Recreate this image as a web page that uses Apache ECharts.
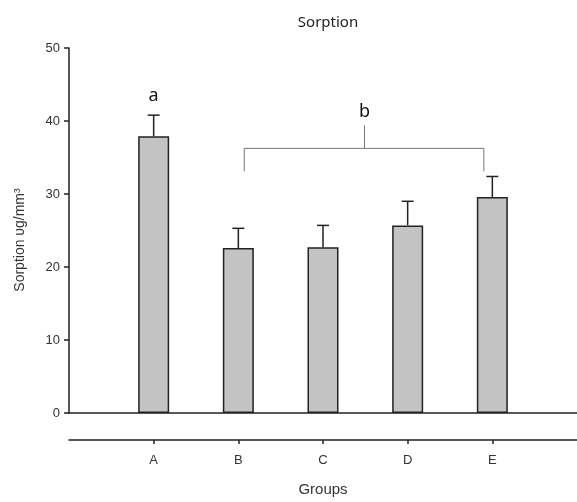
<!DOCTYPE html>
<html>
<head>
<meta charset="utf-8">
<script src="https://cdn.jsdelivr.net/npm/echarts@6/dist/echarts.min.js"></script>
<style>
  html, body { margin: 0; padding: 0; background: #fff; }
  #chart { width: 577px; height: 502px; }
</style>
</head>
<body>
<div id="chart"></div>
<script>
// group labels and values
var groups = ['A', 'B', 'C', 'D', 'E']
var means = [37.9, 22.6, 22.7, 25.7, 29.6]
var errors = [2.9, 2.7, 3.0, 3.3, 2.8]
var yTicks = [0, 10, 20, 30, 40, 50]

// significance letters and the bracket over B..E
var letters = ['a', 'b']
var letterX = [1, 3.49]
var letterY = [43.4, 41.3]
var bracketX = [2.07, 4.9]
var bracketY = 36.25
var bracketLeg = 33.1
var bracketStemX = 3.49
var bracketStemTop = 39.4

var chart = echarts.init(document.getElementById('chart'))
var font = 'Liberation Sans, Arial, sans-serif'
var axisColor = '#222'

chart.setOption({
  animation: false,
  title: {
    text: 'Sorption',
    left: 323,
    textAlign: 'center',
    top: 10,
    textStyle: { fontFamily: 'Noto Sans', fontSize: 15, fontWeight: 'normal', color: '#222' }
  },
  grid: { left: 69, right: -2, top: 48, bottom: 87 },
  xAxis: [
    {
      type: 'value',
      min: 0,
      max: 6,
      position: 'bottom',
      axisLine: { lineStyle: { color: axisColor, width: 1.5 } },
      axisTick: { show: false },
      axisLabel: { show: false },
      splitLine: { show: false }
    },
    {
      type: 'value',
      min: 0,
      max: 6,
      position: 'bottom',
      offset: 27,
      axisLine: { lineStyle: { color: axisColor, width: 1.5 } },
      axisTick: { customValues: [1, 2, 3, 4, 5], length: 4, lineStyle: { color: axisColor, width: 1.5 } },
      axisLabel: {
        customValues: [1, 2, 3, 4, 5],
        formatter: function (v) { return groups[v - 1] },
        margin: 14,
        fontFamily: font,
        fontSize: 13,
        color: '#333'
      },
      splitLine: { show: false },
      name: 'Groups',
      nameLocation: 'middle',
      nameGap: 42,
      nameTextStyle: { fontFamily: font, fontSize: 15, color: '#333' }
    }
  ],
  yAxis: {
    type: 'value',
    min: yTicks[0],
    max: yTicks[yTicks.length - 1],
    interval: 10,
    axisLine: { show: true, lineStyle: { color: axisColor, width: 1.5 } },
    axisTick: { show: true, length: 5, lineStyle: { color: axisColor, width: 1.5 } },
    axisLabel: { margin: 9, fontFamily: font, fontSize: 13, color: '#333' },
    splitLine: { show: false }
  },
  graphic: [
    {
      type: 'text',
      x: 20,
      y: 240,
      rotation: Math.PI / 2,
      style: {
        text: 'Sorption υg/mm³',
        font: '14px ' + font,
        fill: '#333',
        align: 'center',
        verticalAlign: 'middle'
      }
    }
  ],
  series: [
    {
      type: 'bar',
      xAxisIndex: 0,
      barWidth: 31,
      itemStyle: { color: '#c3c3c3', borderColor: '#222', borderWidth: 1.5 },
      data: groups.map(function (g, i) { return [i + 1, means[i]] }),
      z: 2
    },
    {
      type: 'custom',
      xAxisIndex: 0,
      z: 3,
      data: groups.map(function (g, i) { return [i + 1, means[i], errors[i]] }),
      renderItem: function (params, api) {
        var x = api.value(0)
        var m = api.value(1)
        var e = api.value(2)
        var base = api.coord([x, m])
        var top = api.coord([x, m + e])
        var st = { stroke: '#222', lineWidth: 1.5 }
        return {
          type: 'group',
          children: [
            { type: 'line', shape: { x1: base[0], y1: base[1], x2: top[0], y2: top[1] }, style: st },
            { type: 'line', shape: { x1: top[0] - 6, y1: top[1], x2: top[0] + 6, y2: top[1] }, style: st }
          ]
        }
      }
    },
    {
      type: 'custom',
      xAxisIndex: 0,
      z: 3,
      data: [[bracketX[0], bracketX[1], bracketY, bracketLeg, bracketStemX, bracketStemTop]],
      renderItem: function (params, api) {
        var l = api.coord([api.value(0), api.value(2)])
        var r = api.coord([api.value(1), api.value(2)])
        var lLeg = api.coord([api.value(0), api.value(3)])
        var rLeg = api.coord([api.value(1), api.value(3)])
        var sB = api.coord([api.value(4), api.value(2)])
        var sT = api.coord([api.value(4), api.value(5)])
        var st = { stroke: '#777', lineWidth: 1, fill: null }
        return {
          type: 'group',
          children: [
            { type: 'polyline', shape: { points: [lLeg, l, r, rLeg] }, style: st },
            { type: 'line', shape: { x1: sB[0], y1: sB[1], x2: sT[0], y2: sT[1] }, style: st }
          ]
        }
      }
    },
    {
      type: 'custom',
      xAxisIndex: 0,
      z: 3,
      data: letters.map(function (t, i) { return [letterX[i], letterY[i], t] }),
      renderItem: function (params, api) {
        var p = api.coord([api.value(0), api.value(1)])
        return {
          type: 'text',
          x: p[0],
          y: p[1],
          style: {
            text: letters[params.dataIndex],
            font: '18px Noto Sans',
            fill: '#111',
            align: 'center',
            verticalAlign: 'middle'
          }
        }
      }
    }
  ]
})
</script>
</body>
</html>
